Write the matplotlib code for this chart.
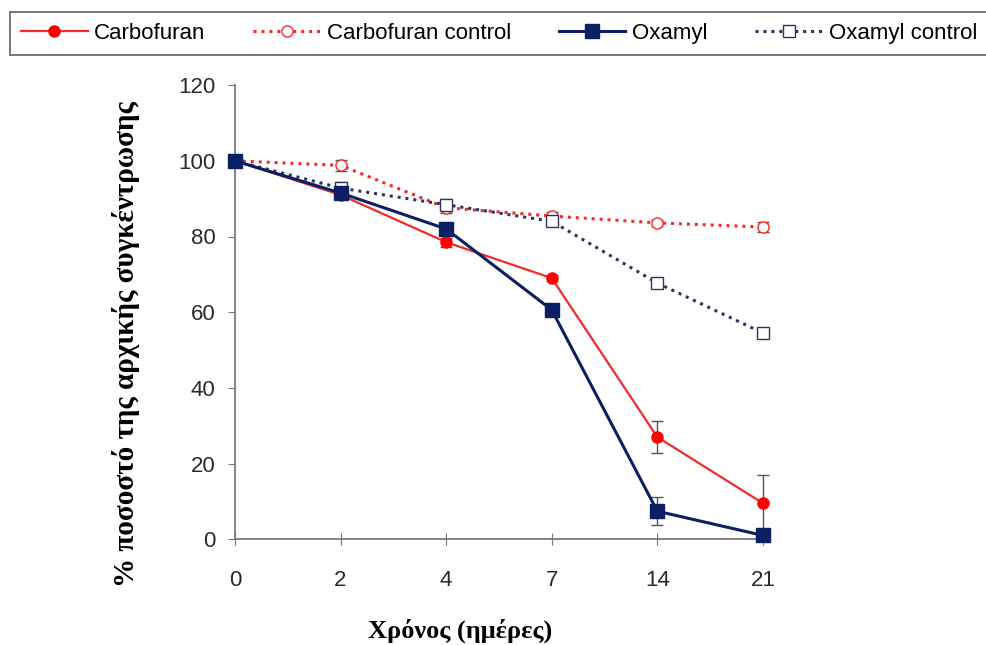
import numpy as np
import matplotlib.pyplot as plt
from matplotlib.lines import Line2D

# Data
days = ['0', '2', '4', '7', '14', '21']
carbofuran = [100, 91, 78.5, 69, 27, 9.5]
carbofuran_err = [0.8, 0.8, 1.2, 0.8, 4.2, 7.5]
carbofuran_control = [100, 98.8, 87.6, 85.4, 83.6, 82.5]
carbofuran_control_err = [0.8, 1.5, 1.5, 1.0, 0.8, 1.2]
oxamyl = [100, 91.5, 82, 60.6, 7.4, 1.0]
oxamyl_err = [0.8, 0.8, 1.0, 0.8, 3.7, 0.8]
oxamyl_control = [100, 92.8, 88.4, 84, 67.7, 54.5]
oxamyl_control_err = [0.8, 1.5, 1.5, 1.2, 1.0, 0.8]

x = np.arange(len(days))

plt.rcParams['font.family'] = ['Liberation Sans', 'DejaVu Sans']

fig = plt.figure(figsize=(9.87, 6.45), dpi=100)
ax = fig.add_axes([0.238, 0.164, 0.535, 0.704])

red = '#f42a2a'
navy = '#0c1f63'
navy_ctrl = '#2a3560'

styles = [
    (carbofuran, carbofuran_err, 'Carbofuran',
     dict(color=red, lw=1.6, marker='o', ms=8, mfc='#ff0000', mec='#ff0000'), 3),
    (carbofuran_control, carbofuran_control_err, 'Carbofuran control',
     dict(color=red, lw=2.2, ls=(0, (1, 1.6)), marker='o', ms=8, mfc='white',
          mec=red, mew=1.0), 2),
    (oxamyl, oxamyl_err, 'Oxamyl',
     dict(color=navy, lw=2.2, marker='s', ms=10, mfc=navy, mec=navy), 4),
    (oxamyl_control, oxamyl_control_err, 'Oxamyl control',
     dict(color=navy_ctrl, lw=2.2, ls=(0, (1, 1.6)), marker='s', ms=9,
          mfc='white', mec=navy_ctrl, mew=1.0), 2),
]

handles = []
for vals, err, name, st, z in styles:
    line, caps, bars = ax.errorbar(x, vals, yerr=err, ecolor='#555555',
                                   elinewidth=1, capsize=4, zorder=z, **st)
    line.set_clip_on(False)
    for c in caps:
        c.set_clip_on(False)
    for b in bars:
        b.set_clip_on(False)
    handles.append(Line2D([], [], label=name, **st))

ax.set_xlim(0, len(days) - 1)
ax.set_ylim(0, 120)
ax.set_xticks(x)
ax.set_xticklabels(days)
ax.set_yticks(np.arange(0, 121, 20))
ax.tick_params(axis='both', labelsize=16, colors='#777777', length=5)
ax.tick_params(axis='y', pad=9)
ax.tick_params(axis='x', direction='inout', length=8, pad=18)

for side in ['top', 'right']:
    ax.spines[side].set_visible(False)
for side in ['left', 'bottom']:
    ax.spines[side].set_color('#7a7a7a')
    ax.spines[side].set_linewidth(1.3)
for lbl in ax.get_xticklabels() + ax.get_yticklabels():
    lbl.set_color('#2a2a2a')

ax.set_xlabel('Χρόνος (ημέρες)', fontsize=19, fontweight='bold',
              family='Liberation Serif')
ax.xaxis.set_label_coords(0.427, -0.175)
ax.set_ylabel('% ποσοστό της αρχικής συγκέντρωσης', fontsize=21,
              fontweight='bold', family='Liberation Serif')
ax.yaxis.set_label_coords(-0.18, 0.43)

leg = fig.legend(handles=handles, loc='upper left', ncol=4,
                 bbox_to_anchor=(0.010, 0.982), fontsize=16,
                 frameon=True, fancybox=False, edgecolor='#555555',
                 handlelength=3.0, columnspacing=2.15, handletextpad=0.3,
                 borderpad=0.5, borderaxespad=0)
leg.get_frame().set_linewidth(1.4)

fig.savefig('out.png', dpi=100)
